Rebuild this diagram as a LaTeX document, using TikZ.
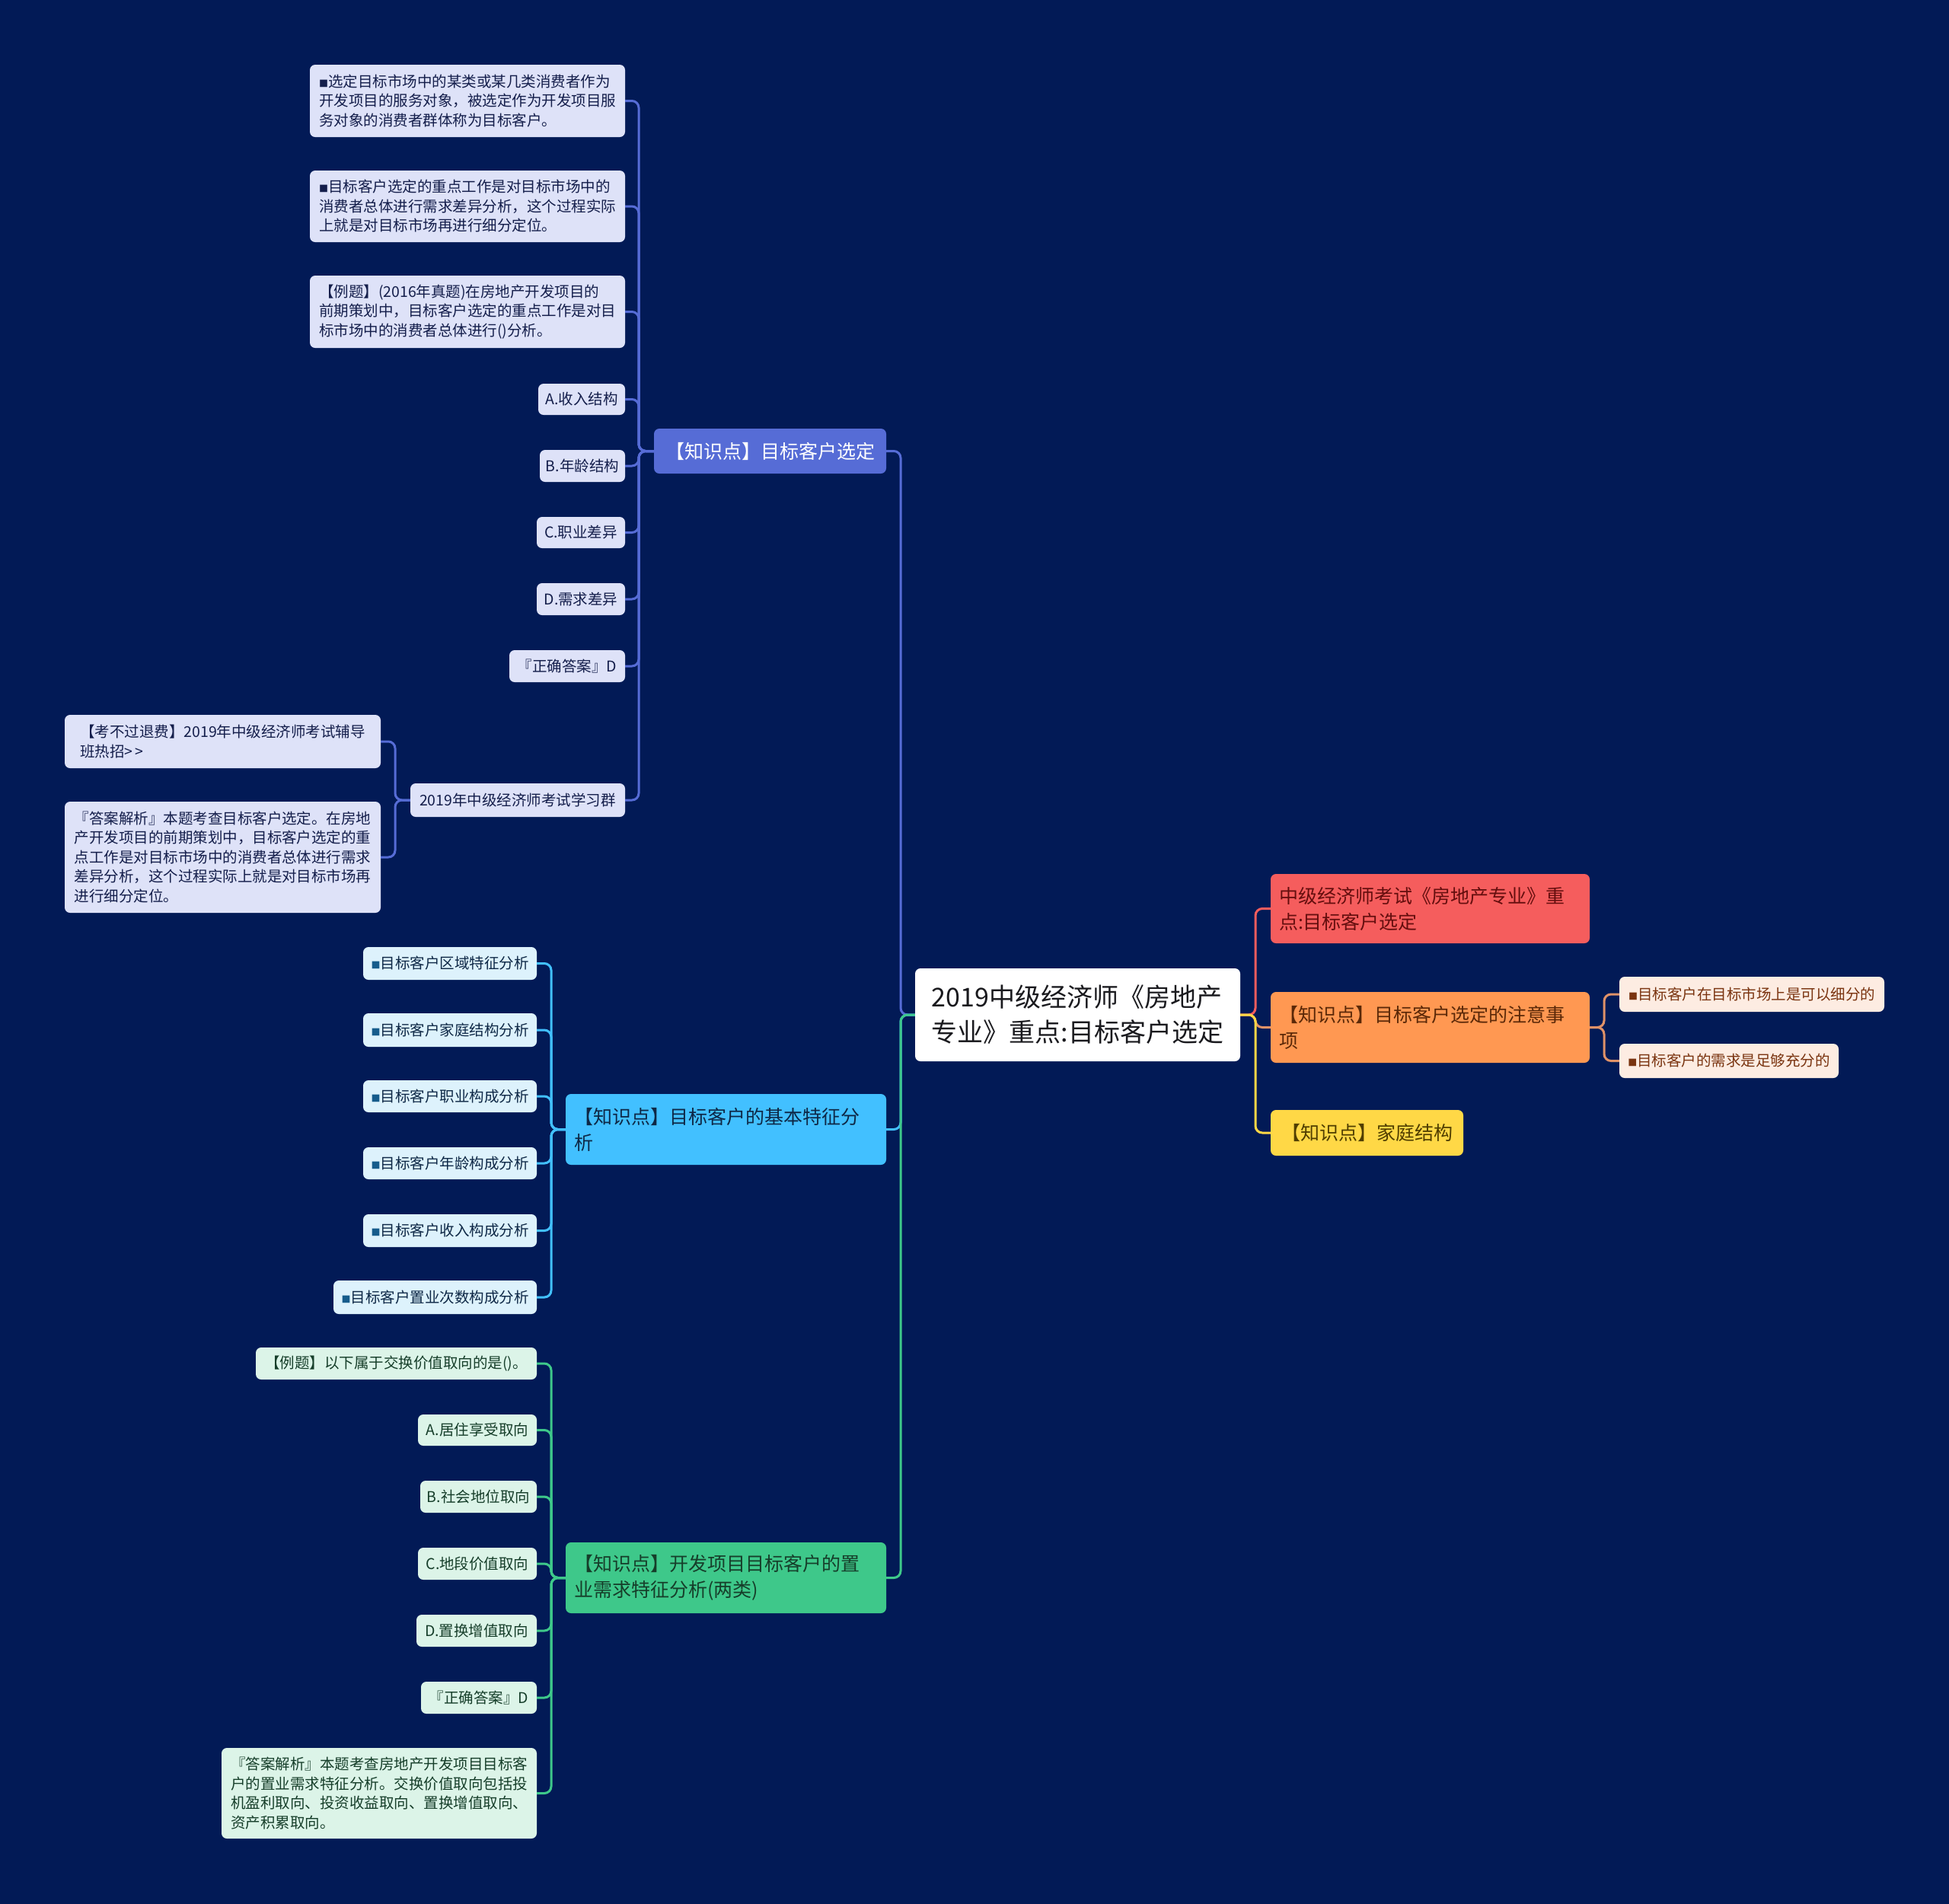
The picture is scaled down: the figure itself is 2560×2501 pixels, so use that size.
\documentclass[tikz,border=0pt]{standalone}
\usepackage{fontspec}
\setmainfont{Noto Sans CJK SC}
\definecolor{bgc}{RGB}{2,26,86}
\definecolor{blueF}{RGB}{86,108,214}
\definecolor{blueC}{RGB}{222,226,248}
\definecolor{blueT}{RGB}{20,30,75}
\definecolor{cyanF}{RGB}{66,192,255}
\definecolor{cyanC}{RGB}{221,242,252}
\definecolor{cyanT}{RGB}{14,40,70}
\definecolor{cyanB}{RGB}{22,92,140}
\definecolor{greenF}{RGB}{62,200,138}
\definecolor{greenC}{RGB}{220,244,232}
\definecolor{greenT}{RGB}{22,62,42}
\definecolor{redF}{RGB}{245,93,93}
\definecolor{redT}{RGB}{100,14,14}
\definecolor{orF}{RGB}{255,152,82}
\definecolor{orT}{RGB}{90,40,8}
\definecolor{orC}{RGB}{253,236,226}
\definecolor{orCT}{RGB}{122,52,16}
\definecolor{orL}{RGB}{224,146,104}
\definecolor{yelF}{RGB}{255,216,70}
\definecolor{yelT}{RGB}{80,62,0}
\definecolor{rootT}{RGB}{26,26,30}
\newcommand{\fsS}{\fontsize{19.5}{25.5}\selectfont}
\newcommand{\fsM}{\fontsize{25}{34}\selectfont}
\newcommand{\fsL}{\fontsize{34}{46}\selectfont}
\newcommand{\bul}[1]{{\color{#1}\fontsize{12}{12}\selectfont ■}}
\newcommand{\bx}[7]{%
  \pgfmathsetmacro{\mybw}{#4-#2}\pgfmathsetmacro{\mybh}{#5-#3}%
  \pgfmathsetmacro{\mybcx}{(#2+#4)/2}\pgfmathsetmacro{\mybcy}{(#3+#5)/2}%
  \node[#6, minimum width=\mybw pt, minimum height=\mybh pt] (#1) at (\mybcx,\mybcy) {#7};}
\newcommand{\bxl}[7]{%
  \pgfmathsetmacro{\mybw}{#4-#2}\pgfmathsetmacro{\mybh}{#5-#3}%
  \pgfmathsetmacro{\mybtw}{#4-#2-22}%
  \pgfmathsetmacro{\mybcx}{(#2+#4)/2}\pgfmathsetmacro{\mybcy}{(#3+#5)/2}%
  \node[#6, minimum width=\mybw pt, minimum height=\mybh pt, text width=\mybtw pt] (#1) at (\mybcx,\mybcy) {#7};}
\newcommand{\lk}[4]{\draw[ln,#1] (#2) -- (#2 -| #3) -- (#4 -| #3) -- (#4);}
\tikzset{
  box/.style={rounded corners=7pt, inner sep=0pt, align=left, font=\fsS},
  rootst/.style={box, fill=white, text=rootT, font=\fsL},
  redst/.style={box, fill=redF, text=redT, font=\fsM},
  orst/.style={box, fill=orF, text=orT, font=\fsM},
  yelst/.style={box, fill=yelF, text=yelT, font=\fsM},
  orch/.style={box, fill=orC, text=orCT},
  bluest/.style={box, fill=blueF, text=white, font=\fsM},
  bch/.style={box, fill=blueC, text=blueT},
  cyanst/.style={box, fill=cyanF, text=cyanT, font=\fsM},
  cch/.style={box, fill=cyanC, text=cyanT},
  greenst/.style={box, fill=greenF, text=greenT, font=\fsM},
  gch/.style={box, fill=greenC, text=greenT},
  ln/.style={line width=3pt, rounded corners=9pt},
}
\begin{document}
\begin{tikzpicture}[x=1pt,y=-1pt]
\fill[bgc] (0,0) rectangle (2560,2501);
\useasboundingbox (0,0) rectangle (2560,2501);
% buses
\coordinate (busA) at (839,0);
\coordinate (busA9) at (519,0);
\coordinate (busL) at (1183,0);
\coordinate (busR) at (1649,0);
\coordinate (busO) at (2107,0);
\coordinate (busB) at (724,0);
\coordinate (busC) at (724,0);
% root
\bx{root}{1202}{1272}{1629}{1394}{rootst}{2019中级经济师《房地产\\专业》重点:目标客户选定}
% right side
\bxl{r1}{1669}{1148}{2088}{1239}{redst}{中级经济师考试《房地产专业》重\\点:目标客户选定}
\bxl{r2}{1669}{1303}{2088}{1396}{orst}{【知识点】目标客户选定的注意事\\项}
\bx{r3}{1669}{1458}{1922}{1518}{yelst}{【知识点】家庭结构}
\bx{r2a}{2127}{1283}{2475}{1329}{orch}{\bul{orCT}目标客户在目标市场上是可以细分的}
\bx{r2b}{2127}{1371}{2415}{1416}{orch}{\bul{orCT}目标客户的需求是足够充分的}
% blue branch
\bx{pA}{859}{563}{1164}{622}{bluest}{【知识点】目标客户选定}
\bx{a1}{407}{85}{821}{180}{bch}{\bul{blueT}选定目标市场中的某类或某几类消费者作为\\开发项目的服务对象，被选定作为开发项目服\\务对象的消费者群体称为目标客户。}
\bx{a2}{407}{224}{821}{318}{bch}{\bul{blueT}目标客户选定的重点工作是对目标市场中的\\消费者总体进行需求差异分析，这个过程实际\\上就是对目标市场再进行细分定位。}
\bx{a3}{407}{362}{821}{457}{bch}{【例题】(2016年真题)在房地产开发项目的\\前期策划中，目标客户选定的重点工作是对目\\标市场中的消费者总体进行()分析。}
\bx{a4}{707}{504}{821}{545}{bch}{A.收入结构}
\bx{a5}{709}{591}{821}{633}{bch}{B.年龄结构}
\bx{a6}{705}{679}{821}{720}{bch}{C.职业差异}
\bx{a7}{705}{766}{821}{808}{bch}{D.需求差异}
\bx{a8}{669}{854}{821}{896}{bch}{『正确答案』D}
\bx{a9}{539}{1029}{821}{1073}{bch}{2019年中级经济师考试学习群}
\bx{a9a}{85}{939}{500}{1009}{bch}{【考不过退费】2019年中级经济师考试辅导\\班热招>\,>}
\bx{a9b}{85}{1053}{500}{1199}{bch}{『答案解析』本题考查目标客户选定。在房地\\产开发项目的前期策划中，目标客户选定的重\\点工作是对目标市场中的消费者总体进行需求\\差异分析，这个过程实际上就是对目标市场再\\进行细分定位。}
% cyan branch
\bxl{pB}{743}{1437}{1164}{1530}{cyanst}{【知识点】目标客户的基本特征分\\析}
\bx{b1}{477}{1244}{705}{1287}{cch}{\bul{cyanB}目标客户区域特征分析}
\bx{b2}{477}{1331}{705}{1375}{cch}{\bul{cyanB}目标客户家庭结构分析}
\bx{b3}{477}{1419}{705}{1461}{cch}{\bul{cyanB}目标客户职业构成分析}
\bx{b4}{477}{1507}{705}{1549}{cch}{\bul{cyanB}目标客户年龄构成分析}
\bx{b5}{477}{1595}{705}{1638}{cch}{\bul{cyanB}目标客户收入构成分析}
\bx{b6}{438}{1682}{705}{1726}{cch}{\bul{cyanB}目标客户置业次数构成分析}
% green branch
\bxl{pC}{743}{2026}{1164}{2119}{greenst}{【知识点】开发项目目标客户的置\\业需求特征分析(两类)}
\bx{c1}{336}{1770}{705}{1812}{gch}{【例题】以下属于交换价值取向的是()。}
\bx{c2}{549}{1858}{705}{1899}{gch}{A.居住享受取向}
\bx{c3}{552}{1945}{705}{1987}{gch}{B.社会地位取向}
\bx{c4}{549}{2033}{705}{2075}{gch}{C.地段价值取向}
\bx{c5}{547}{2121}{705}{2163}{gch}{D.置换增值取向}
\bx{c6}{553}{2209}{705}{2251}{gch}{『正确答案』D}
\bx{c7}{291}{2296}{705}{2415}{gch}{『答案解析』本题考查房地产开发项目目标客\\户的置业需求特征分析。交换价值取向包括投\\机盈利取向、投资收益取向、置换增值取向、\\资产积累取向。}
% connectors root
\lk{redF}{root.east}{busR}{r1.west}
\lk{orL}{root.east}{busR}{r2.west}
\lk{yelF}{root.east}{busR}{r3.west}
\lk{orL}{r2.east}{busO}{r2a.west}
\lk{orL}{r2.east}{busO}{r2b.west}
\lk{blueF}{root.west}{busL}{pA.east}
\lk{cyanF}{root.west}{busL}{pB.east}
\lk{greenF}{root.west}{busL}{pC.east}
\foreach \c in {a1,a2,a3,a4,a5,a6,a7,a8,a9} {\lk{blueF}{pA.west}{busA}{\c.east}}
\lk{blueF}{a9.west}{busA9}{a9a.east}
\lk{blueF}{a9.west}{busA9}{a9b.east}
\foreach \c in {b1,b2,b3,b4,b5,b6} {\lk{cyanF}{pB.west}{busB}{\c.east}}
\foreach \c in {c1,c2,c3,c4,c5,c6,c7} {\lk{greenF}{pC.west}{busC}{\c.east}}
\end{tikzpicture}
\end{document}
